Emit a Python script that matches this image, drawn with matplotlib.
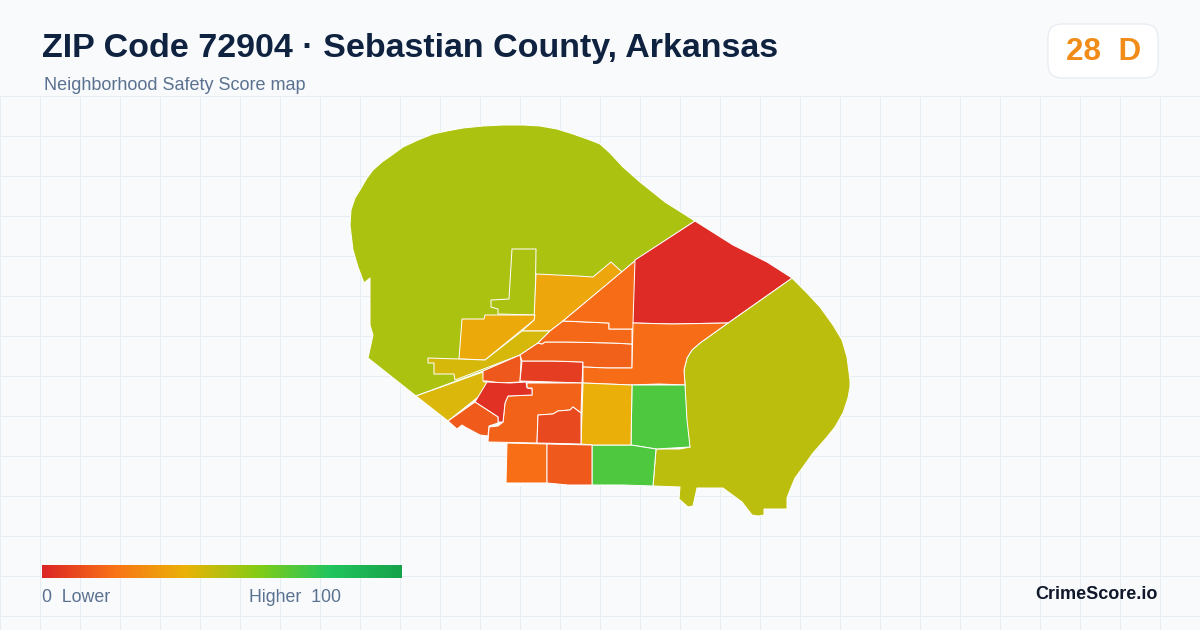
import matplotlib
matplotlib.use("Agg")
import matplotlib.pyplot as plt
from matplotlib.colors import LinearSegmentedColormap
from matplotlib.patches import FancyBboxPatch, Polygon
import numpy as np

plt.rcParams['font.family'] = ['Liberation Sans', 'DejaVu Sans']

TITLE = "ZIP Code 72904 · Sebastian County, Arkansas"
SUBTITLE = "Neighborhood Safety Score map"
BADGE = "28  D"
BRAND = "CrimeScore.io"
LEGEND_LOW = "0  Lower"
LEGEND_HIGH = "Higher  100"

grad_stops = [0.0, 0.2, 0.4, 0.6, 0.8, 1.0]
grad_colors = ["#dc2626", "#f97316", "#eab308", "#84cc16", "#22c55e", "#16a34a"]
cmap = LinearSegmentedColormap.from_list("score", list(zip(grad_stops, grad_colors)))

north = [(695,221),(665,202),(640,182),(623,167),(610,153),(600,144),(590,140),(573,134),(557,129),(540,126),(523,125),(503,125),(483,126),(463,128),(447,131),(433,134),(418,140),(403,147),(392,155),(382,162),(373,170),(367,178),(360,190),(355,198),(351,210),(350,225),(353,250),(358,267),(364,283),(370,278),(370,325),(373,335),(368,358),(416,396),(483,371),(520,355),(538,343),(550,331),(563,321),(622,272),(636,260)]
finger = [(512,249),(536,249),(535,315),(498,314),(498,309),(491,307),(491,300),(509,299)]
amber_a = [(536,274),(578,276),(593,277),(611,262),(622,272),(563,321),(550,331),(522,331),(534,320)]
amber_b = [(462,319),(484,319),(485,315),(535,315),(534,320),(485,360),(459,359)]
yellow_c = [(428,358),(459,359),(485,360),(522,331),(550,331),(538,343),(520,355),(455,380),(454,374),(434,374),(434,363),(428,363)]
yellow_d = [(416,396),(483,372),(484,382),(487,382),(487,390),(448,421)]
orange_e = [(483,371),(520,355),(521,361),(520,382),(500,383),(487,381),(483,381)]
red_f = [(522,361),(553,361),(583,362),(582,383),(553,382),(520,381)]
orange_g = [(545,342),(568,342),(612,343),(632,344),(632,368),(607,368),(583,367),(583,362),(553,361),(522,361),(520,355),(538,343),(542,344)]
orange_h = [(563,321),(609,323),(609,329),(632,329),(632,344),(612,343),(568,342),(545,342),(542,344),(538,343),(550,331)]
orange_i = [(563,321),(636,260),(634,329),(609,329),(609,323)]
red_j = [(695,221),(733,245),(767,262),(792,278),(728,323),(672,324),(633,323),(635,260)]
orange_k = [(633,323),(672,324),(728,323),(700,343),(692,350),(687,358),(684,370),(685,385),(659,384),(631,385),(607,384),(583,383),(583,367),(607,368),(632,368)]
southeast = [(792,278),(807,293),(820,307),(833,325),(842,340),(847,357),(850,380),(850,387),(848,398),(843,413),(835,427),(827,437),(813,453),(803,467),(795,478),(790,490),(787,498),(787,509),(764,509),(764,515),(758,516),(752,515),(742,502),(723,488),(697,488),(693,506),(688,507),(679,499),(680,487),(653,486),(656,449),(680,449),(690,447),(687,437),(685,385),(684,370),(687,358),(692,350),(700,343),(728,323)]
green_l = [(632,385),(685,385),(687,420),(690,447),(656,449),(631,445)]
green_m = [(592,445),(631,445),(656,449),(653,486),(622,485),(592,485)]
amber_n = [(583,383),(607,384),(632,385),(631,445),(592,445),(581,444)]
orange_o = [(488,442),(489,427),(498,426),(503,422),(505,403),(508,396),(532,395),(532,388),(527,388),(527,383),(582,383),(581,413),(573,407),(570,410),(558,411),(553,414),(538,415),(537,443)]
red_p = [(538,415),(553,414),(558,411),(570,410),(573,407),(581,413),(581,444),(537,443)]
red_q = [(487,382),(510,383),(526,382),(527,388),(532,389),(532,395),(508,396),(505,403),(503,422),(498,422),(498,417),(475,402)]
orange_r = [(475,402),(498,417),(498,423),(489,426),(488,436),(480,435),(465,427),(462,425),(457,429),(448,421)]
orange_s = [(507,443),(547,444),(547,483),(506,483)]
orange_t = [(547,444),(592,445),(592,485),(568,485),(547,483)]
sliver = [(506,484),(521,484),(521,485),(506,485)]

regions = [north, finger, southeast, amber_a, amber_b, yellow_c, yellow_d, orange_e, red_f,
           orange_g, orange_h, orange_i, red_j, orange_k, green_l, green_m, amber_n,
           orange_o, red_p, red_q, orange_r, orange_s, orange_t, sliver]
scores = [52, 52, 49, 36, 37, 44, 43, 13, 6,
          15.5, 17.5, 18.5, 1.5, 18.5, 71, 71, 39,
          16, 9, 3, 14, 19, 13.5, 38]

fig = plt.figure(figsize=(12, 6.3), dpi=100, facecolor="#f8fafc")
ax = fig.add_axes([0, 0, 1, 1])
ax.set_xlim(0, 1200)
ax.set_ylim(630, 0)
ax.axis("off")

for gx in np.arange(0, 1200, 40):
    ax.plot([gx, gx], [96, 630], color="#e6eef3", lw=0.72, zorder=1, solid_capstyle="butt")
for gy in np.arange(96, 630, 40):
    ax.plot([0, 1200], [gy, gy], color="#e6eef3", lw=0.72, zorder=1, solid_capstyle="butt")

for poly, s in zip(regions, scores):
    ax.add_patch(Polygon(poly, closed=True, facecolor=cmap(s / 100), edgecolor="white",
                         lw=0.72, joinstyle="round", zorder=2))

ax.imshow(np.linspace(0, 1, 360).reshape(1, -1), cmap=cmap, extent=(42, 402, 578, 565),
          aspect="auto", zorder=3, interpolation="bilinear")
ax.set_xlim(0, 1200)
ax.set_ylim(630, 0)

ax.add_patch(FancyBboxPatch((1062, 38), 82, 26, boxstyle="round,pad=14,rounding_size=14",
                            facecolor="white", edgecolor="#e2e8f0", lw=0.72, zorder=3))

ax.text(42, 49, TITLE, fontsize=24.45, fontweight="bold", color="#0f2340", va="center", ha="left", zorder=4)
ax.text(44, 86, SUBTITLE, fontsize=12.95, color="#5a7190", va="center", ha="left", zorder=4)
ax.text(1066, 52, BADGE, fontsize=22.6, fontweight="bold", color="#f28c18", va="center", ha="left", zorder=4)
ax.text(42, 598, LEGEND_LOW, fontsize=12.8, color="#5a7190", va="center", ha="left", zorder=4)
ax.text(249, 598, LEGEND_HIGH, fontsize=12.8, color="#5a7190", va="center", ha="left", zorder=4)
ax.text(1158, 594.5, BRAND, fontsize=13.0, fontweight="bold", color="#0f172a", va="center", ha="right", zorder=4)

fig.savefig("out.png", dpi=100, facecolor=fig.get_facecolor())
